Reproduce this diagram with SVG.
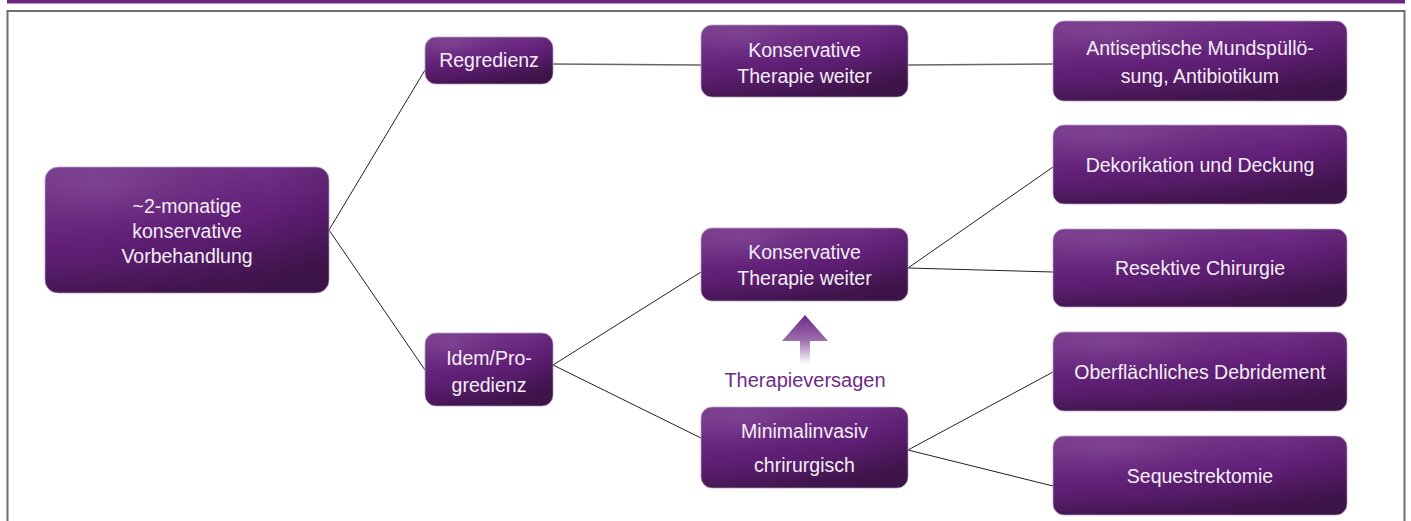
<svg xmlns="http://www.w3.org/2000/svg" width="1411" height="521" viewBox="0 0 1411 521">
<defs>
<linearGradient id="boxg" x1="0" y1="0" x2="0.35" y2="1">
<stop offset="0" stop-color="#7b3b90"/>
<stop offset="0.55" stop-color="#63207a"/>
<stop offset="1" stop-color="#4a1858"/>
</linearGradient>
<radialGradient id="shade" cx="0.2" cy="0.15" r="1">
<stop offset="0" stop-color="#ffffff" stop-opacity="0.08"/>
<stop offset="0.6" stop-color="#000000" stop-opacity="0"/>
<stop offset="1" stop-color="#000000" stop-opacity="0.18"/>
</radialGradient>
<linearGradient id="txtg" x1="0" y1="0" x2="0" y2="1">
<stop offset="0" stop-color="#ffffff"/>
<stop offset="1" stop-color="#d8d0dc"/>
</linearGradient>
<linearGradient id="arrowg" x1="0" y1="0" x2="0" y2="1">
<stop offset="0" stop-color="#6e2a86"/>
<stop offset="0.5" stop-color="#9a6aac"/>
<stop offset="1" stop-color="#ffffff"/>
</linearGradient>
</defs>
<style>
.box{fill:url(#boxg);stroke:#b9a0c4;stroke-width:0.8}
.sh{fill:url(#shade)}
.t{font-family:"Liberation Sans",Arial,sans-serif;font-size:19.5px;fill:#f3eef5;text-anchor:middle}
.c{stroke:#222;stroke-width:1;fill:none}
.cg{stroke:#666;stroke-width:1.5;fill:none}
</style>
<rect x="7" y="0" width="1398" height="3.5" fill="#6b2582"/>
<rect x="7.5" y="11" width="1397" height="530" fill="none" stroke="#6e6e6e" stroke-width="2"/>
<g id="connectors">
<line class="c" x1="329" y1="230" x2="425" y2="70"/>
<line class="c" x1="329" y1="230" x2="425" y2="370"/>
<line class="cg" x1="553" y1="64" x2="701" y2="65"/>
<line class="cg" x1="908" y1="65" x2="1053" y2="64"/>
<line class="c" x1="553" y1="365" x2="701" y2="272"/>
<line class="c" x1="553" y1="365" x2="701" y2="438"/>
<line class="c" x1="908" y1="268" x2="1053" y2="167"/>
<line class="c" x1="908" y1="268" x2="1053" y2="272"/>
<line class="c" x1="908" y1="450" x2="1053" y2="372"/>
<line class="c" x1="908" y1="450" x2="1053" y2="486"/>
</g>
<g id="root">
<rect class="box" x="45" y="167" width="284" height="126" rx="13"/>
<rect class="sh" x="45" y="167" width="284" height="126" rx="13"/>
<text class="t" x="187" y="213">~2-monatige</text>
<text class="t" x="187" y="238">konservative</text>
<text class="t" x="187" y="263">Vorbehandlung</text>
</g>
<g id="regredienz">
<rect class="box" x="425" y="37" width="128" height="47" rx="11"/>
<rect class="sh" x="425" y="37" width="128" height="47" rx="11"/>
<text class="t" x="489" y="67">Regredienz</text>
</g>
<g id="idem">
<rect class="box" x="425" y="333" width="128" height="73" rx="11"/>
<rect class="sh" x="425" y="333" width="128" height="73" rx="11"/>
<text class="t" x="489" y="365">Idem/Pro-</text>
<text class="t" x="489" y="392">gredienz</text>
</g>
<g id="konservativ1">
<rect class="box" x="701" y="25" width="207" height="72" rx="11"/>
<rect class="sh" x="701" y="25" width="207" height="72" rx="11"/>
<text class="t" x="804.5" y="57">Konservative</text>
<text class="t" x="804.5" y="83">Therapie weiter</text>
</g>
<g id="konservativ2">
<rect class="box" x="701" y="228" width="207" height="73" rx="11"/>
<rect class="sh" x="701" y="228" width="207" height="73" rx="11"/>
<text class="t" x="804.5" y="259">Konservative</text>
<text class="t" x="804.5" y="285">Therapie weiter</text>
</g>
<g id="minimalinvasiv">
<rect class="box" x="701" y="407" width="207" height="81" rx="11"/>
<rect class="sh" x="701" y="407" width="207" height="81" rx="11"/>
<text class="t" x="804.5" y="438">Minimalinvasiv</text>
<text class="t" x="804.5" y="472">chrirurgisch</text>
</g>
<g id="therapieversagen">
<path d="M805 315 L828 341 L810 341 L810 364 L800 364 L800 341 L782 341 Z" fill="url(#arrowg)"/>
<text x="805" y="387" font-family="'Liberation Sans',Arial,sans-serif" font-size="20" fill="#6e2a88" text-anchor="middle">Therapieversagen</text>
</g>
<g id="antiseptisch">
<rect class="box" x="1053" y="21" width="294" height="80" rx="11"/>
<rect class="sh" x="1053" y="21" width="294" height="80" rx="11"/>
<text class="t" x="1200" y="55">Antiseptische Mundspüllö-</text>
<text class="t" x="1200" y="83">sung, Antibiotikum</text>
</g>
<g id="dekorikation">
<rect class="box" x="1053" y="125" width="294" height="79" rx="11"/>
<rect class="sh" x="1053" y="125" width="294" height="79" rx="11"/>
<text class="t" x="1200" y="172">Dekorikation und Deckung</text>
</g>
<g id="resektiv">
<rect class="box" x="1053" y="229" width="294" height="78" rx="11"/>
<rect class="sh" x="1053" y="229" width="294" height="78" rx="11"/>
<text class="t" x="1200" y="275">Resektive Chirurgie</text>
</g>
<g id="debridement">
<rect class="box" x="1053" y="332" width="294" height="79" rx="11"/>
<rect class="sh" x="1053" y="332" width="294" height="79" rx="11"/>
<text class="t" x="1200" y="379">Oberflächliches Debridement</text>
</g>
<g id="sequestrektomie">
<rect class="box" x="1053" y="436" width="294" height="79" rx="11"/>
<rect class="sh" x="1053" y="436" width="294" height="79" rx="11"/>
<text class="t" x="1200" y="483">Sequestrektomie</text>
</g>
</svg>
